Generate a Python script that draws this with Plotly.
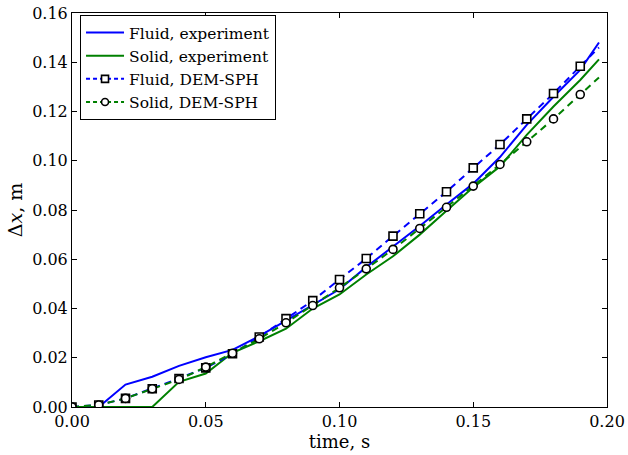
import plotly.graph_objects as go

# time grid (s)
t_grid = [0.00, 0.01, 0.02, 0.03, 0.04, 0.05, 0.06, 0.07, 0.08, 0.09, 0.10,
          0.11, 0.12, 0.13, 0.14, 0.15, 0.16, 0.17, 0.18, 0.19, 0.197]

# Experiment curves (m)
fluid_exp = [0.0, 0.0, 0.0091, 0.0123, 0.0167, 0.0202, 0.0232, 0.0288, 0.0351, 0.0414, 0.0478,
             0.0568, 0.0650, 0.0735, 0.0822, 0.0907, 0.1015, 0.1146, 0.1260, 0.1369, 0.1480]
solid_exp = [0.0, 0.0, 0.0, 0.0, 0.0102, 0.0136, 0.0220, 0.0267, 0.0318, 0.0400, 0.0457,
             0.0538, 0.0612, 0.0700, 0.0797, 0.0892, 0.0977, 0.1105, 0.1220, 0.1328, 0.1412]

# DEM-SPH simulation (markers every 0.01 s)
t_markers = [0.00, 0.01, 0.02, 0.03, 0.04, 0.05, 0.06, 0.07, 0.08, 0.09,
             0.10, 0.11, 0.12, 0.13, 0.14, 0.15, 0.16, 0.17, 0.18, 0.19]
fluid_sph = [0.0, 0.0008, 0.0035, 0.0074, 0.0116, 0.0159, 0.0216, 0.0284, 0.0359, 0.0432,
             0.0518, 0.0603, 0.0694, 0.0785, 0.0874, 0.0971, 0.1066, 0.1170, 0.1273, 0.1384]
solid_sph = [0.0, 0.0008, 0.0035, 0.0074, 0.0112, 0.0162, 0.0218, 0.0277, 0.0342, 0.0412,
             0.0484, 0.0561, 0.0640, 0.0725, 0.0811, 0.0897, 0.0985, 0.1077, 0.1170, 0.1269]
t_sph_end = 0.197
fluid_sph_end = 0.1460
solid_sph_end = 0.1338

BLUE = "#0000ff"
GREEN = "#008000"
FONT = "DejaVu Serif"
DASH = "7px,5px"

fig = go.Figure()

fig.add_trace(go.Scatter(x=t_grid, y=fluid_exp, mode="lines", name="Fluid, experiment",
                         line=dict(color=BLUE, width=2)))
fig.add_trace(go.Scatter(x=t_grid, y=solid_exp, mode="lines", name="Solid, experiment",
                         line=dict(color=GREEN, width=2)))

# dashed simulation lines
fig.add_trace(go.Scatter(x=t_markers + [t_sph_end], y=fluid_sph + [fluid_sph_end], mode="lines",
                         showlegend=False, line=dict(color=BLUE, width=2, dash=DASH)))
fig.add_trace(go.Scatter(x=t_markers + [t_sph_end], y=solid_sph + [solid_sph_end], mode="lines",
                         showlegend=False, line=dict(color=GREEN, width=2, dash=DASH)))

# markers
fig.add_trace(go.Scatter(x=t_markers, y=fluid_sph, mode="markers", showlegend=False,
                         marker=dict(symbol="square", size=8, color="white",
                                     line=dict(width=1.6, color="black"))))
fig.add_trace(go.Scatter(x=t_markers, y=solid_sph, mode="markers", showlegend=False,
                         marker=dict(symbol="circle", size=8, color="white",
                                     line=dict(width=1.6, color="black"))))

# legend-only entries for simulation
fig.add_trace(go.Scatter(x=[None], y=[None], mode="lines+markers", name="Fluid, DEM-SPH",
                         line=dict(color=BLUE, width=2, dash="4px,3px"),
                         marker=dict(symbol="square", size=7, color="white",
                                     line=dict(width=1.6, color="black"))))
fig.add_trace(go.Scatter(x=[None], y=[None], mode="lines+markers", name="Solid, DEM-SPH",
                         line=dict(color=GREEN, width=2, dash="4px,3px"),
                         marker=dict(symbol="circle", size=7, color="white",
                                     line=dict(width=1.6, color="black"))))

axis_common = dict(showline=True, linecolor="black", linewidth=1, mirror="ticks",
                   ticks="inside", ticklen=5, tickcolor="black", tickwidth=1,
                   showgrid=False, zeroline=False, automargin=False,
                   tickfont=dict(family=FONT, size=16, color="black"))

fig.update_xaxes(range=[0, 0.20], tickvals=[0, 0.05, 0.10, 0.15, 0.20],
                 ticktext=["0.00", "0.05", "0.10", "0.15", "0.20"],
                 title=dict(text="time, s", font=dict(family=FONT, size=18, color="black"),
                            standoff=2),
                 **axis_common)
fig.update_yaxes(range=[0, 0.16], tickvals=[0, 0.02, 0.04, 0.06, 0.08, 0.10, 0.12, 0.14, 0.16],
                 ticktext=["0.00", "0.02", "0.04", "0.06", "0.08", "0.10", "0.12", "0.14", "0.16"],
                 title=dict(text="Δ<i>x</i>, m", font=dict(family=FONT, size=19, color="black"),
                            standoff=4),
                 **axis_common)

fig.update_layout(
    width=628, height=455, autosize=False,
    margin=dict(l=72, r=21, t=13, b=48),
    paper_bgcolor="white", plot_bgcolor="white",
    font=dict(family=FONT, color="black"),
    legend=dict(x=0.015, y=0.995, xanchor="left", yanchor="top",
                bgcolor="white", bordercolor="black", borderwidth=1,
                font=dict(family=FONT, size=15.5, color="black"),
                tracegroupgap=0, itemwidth=38),
)

fig.write_html("out.html")
